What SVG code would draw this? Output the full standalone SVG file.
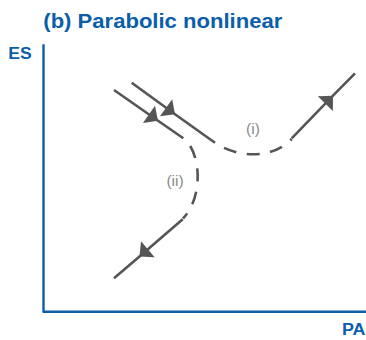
<svg xmlns="http://www.w3.org/2000/svg" width="366" height="340" viewBox="0 0 366 340">
  <style>
    .ttl { font-family: "Liberation Sans", Arial, sans-serif; font-weight: bold; fill: #0b5ea8; }
    .lbl { font-family: "Liberation Sans", Arial, sans-serif; fill: #8a8a8a; font-size: 15.5px; text-anchor: middle; }
    .axis { fill: none; stroke: #0b5ea8; stroke-width: 2.4; stroke-linejoin: round; }
    .solid { fill: none; stroke: #555555; stroke-width: 2.6; }
    .dash { fill: none; stroke: #555555; stroke-width: 2.6; stroke-dasharray: 13 10.5; stroke-dashoffset: 13; }
  </style>
  <defs>
    <marker id="ah" markerUnits="userSpaceOnUse" markerWidth="26" markerHeight="26" refX="11" refY="0" viewBox="-2 -13 15 26" orient="auto" overflow="visible">
      <path d="M0,-10.5 L11,0 L0,10.5 Z" fill="#555555"/>
    </marker>
  </defs>
  <rect width="366" height="340" fill="#ffffff"/>
  <text class="ttl" x="43.3" y="27.7" font-size="20.5" textLength="239" lengthAdjust="spacingAndGlyphs">(b) Parabolic nonlinear</text>
  <g id="axes">
    <polyline class="axis" points="43.5,44.3 43.5,311.7 366,311.7"/>
    <text id="es" class="ttl" x="8.3" y="59.3" font-size="16" textLength="23.5" lengthAdjust="spacingAndGlyphs">ES</text>
    <text id="pa" class="ttl" x="342" y="335" font-size="16" textLength="23.5" lengthAdjust="spacingAndGlyphs">PA</text>
  </g>
  <g id="connectors">
    <g id="traj-i">
      <path class="solid" d="M131.7,82.7 L175,114.2 L215,142.7" marker-mid="url(#ah)"/>
      <path class="dash" d="M215,142.7 C232.8,155.7 269.7,161.7 291.7,139"/>
      <path class="solid" d="M291.7,138.3 L333,95.7 L355,73.3" marker-mid="url(#ah)"/>
    </g>
    <g id="traj-ii">
      <path class="solid" d="M114,90 L158,120.7 L183.3,138.3" marker-mid="url(#ah)"/>
      <path class="dash" d="M183.3,138.3 C200,150 205,195 183,218.5"/>
      <path class="solid" d="M182.7,219.3 L139.5,256.5 L114,278.3" marker-mid="url(#ah)"/>
    </g>
  </g>
  <g id="labels">
    <text class="lbl" x="253" y="134">(i)</text>
    <text class="lbl" x="175" y="186">(ii)</text>
  </g>
</svg>
